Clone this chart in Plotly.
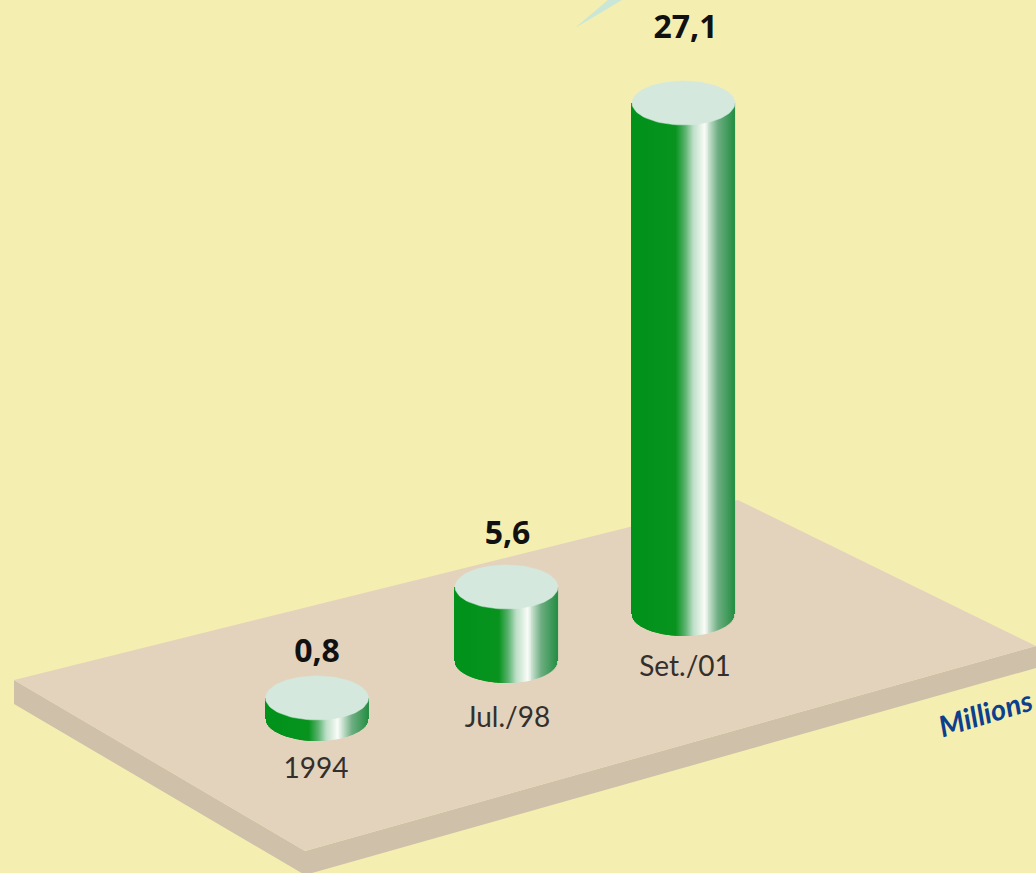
import numpy as np
import plotly.graph_objects as go

# Chart data
periods = ["1994", "Jul./98", "Set./01"]
values = [0.8, 5.6, 27.1]
unit_label = "Millions"

# Drawing geometry, in picture pixels (the original is a schematic, not to scale)
centers_x = [317, 506.5, 683.5]
base_y = [719, 661, 614]
column_heights = [21, 74, 511]
radius_x = 51.5
radius_y = 22
value_x = [317, 507.5, 685.5]
value_y = [654, 536, 30]
period_x = [316, 507.5, 685]
period_y = [771, 720, 669]

BG = "#f4efb0"
PLATE = "#e3d3bd"
PLATE_SIDE = "#cfc0aa"
CAP = "#d4e8de"
STOPS_U = [0, 0.43, 0.52, 0.60, 0.71, 0.85, 1]
STOPS_R = [0, 8, 90, 190, 250, 110, 40]
STOPS_G = [146, 148, 178, 224, 252, 174, 143]
STOPS_B = [26, 31, 110, 200, 248, 130, 70]

fig = go.Figure()

u = np.linspace(0, 1, 104)
for name, cx, by, h in zip(periods, centers_x, base_y, column_heights):
    xs = cx - radius_x + 0.6 + u * (2 * radius_x - 1.2)
    curve = radius_y * np.sqrt(np.clip(1 - (2 * u - 1) ** 2, 0, 1))
    top = by - h
    colors = [
        f"rgb({int(np.interp(t, STOPS_U, STOPS_R))},{int(np.interp(t, STOPS_U, STOPS_G))},{int(np.interp(t, STOPS_U, STOPS_B))})"
        for t in u
    ]
    fig.add_trace(go.Bar(x=xs, y=h + curve, base=top, width=1.4,
                         marker=dict(color=colors, line=dict(width=0)),
                         name=name, showlegend=False, hoverinfo="skip"))

t = np.linspace(0, 2 * np.pi, 90)
for name, cx, by, h in zip(periods, centers_x, base_y, column_heights):
    fig.add_trace(go.Scatter(x=cx + radius_x * np.cos(t), y=(by - h) + radius_y * np.sin(t),
                             mode="lines", fill="toself", fillcolor=CAP,
                             line=dict(color=CAP, width=0.5), showlegend=False, hoverinfo="skip"))

fig.add_trace(go.Scatter(x=value_x, y=value_y, mode="text",
                         text=[f"{v:.1f}".replace(".", ",") for v in values],
                         textposition="middle center",
                         textfont=dict(family="Open Sans", size=32, color="#111111", weight="bold"),
                         showlegend=False, hoverinfo="skip"))
fig.add_trace(go.Scatter(x=period_x, y=period_y, mode="text",
                         text=periods, textposition="middle center",
                         textfont=dict(family="Lato", size=28, color="#332f2c"),
                         showlegend=False, hoverinfo="skip"))

def poly(points, color):
    path = "M " + " L ".join(f"{x},{y}" for x, y in points) + " Z"
    return dict(type="path", path=path, fillcolor=color, line=dict(width=0), layer="below",
                xref="x", yref="y")

shapes = [
    poly([(14, 680), (14, 704), (305, 875), (1036, 668), (1036, 646), (305, 851)], PLATE_SIDE),
    poly([(14, 680), (738, 500), (1036, 646), (305, 851)], PLATE),
    poly([(575, 28), (608, 0), (622, 0)], "#c9e6d6"),
]

fig.update_layout(
    width=1036, height=873, autosize=False,
    margin=dict(l=0, r=0, t=0, b=0),
    paper_bgcolor=BG, plot_bgcolor=BG,
    barmode="overlay", showlegend=False,
    shapes=shapes,
    xaxis=dict(range=[0, 1036], visible=False, fixedrange=True),
    yaxis=dict(range=[873, 0], visible=False, fixedrange=True),
    annotations=[dict(x=985, y=712, xref="x", yref="y", text=f"<b><i>{unit_label}</i></b>",
                      showarrow=False, textangle=-17,
                      font=dict(family="Lato", size=29, color="#0d3f8c"))],
)

fig.write_html("out.html", config=dict(displayModeBar=False),
               post_script="document.body.style.margin='0';document.body.style.overflow='hidden';document.body.style.background='#f4efb0';")
